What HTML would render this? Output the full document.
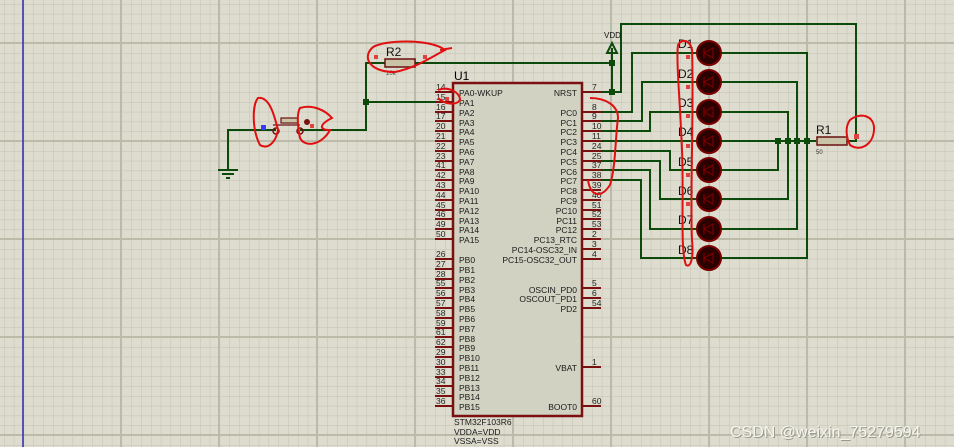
<!DOCTYPE html>
<html><head><meta charset="utf-8"><style>
html,body{margin:0;padding:0;background:#dcdccd;}
svg{display:block}
text{font-family:"Liberation Sans",sans-serif;}
</style></head><body>
<svg width="954" height="447" viewBox="0 0 954 447" xmlns="http://www.w3.org/2000/svg">
<defs>
<pattern id="g" x="4" y="4" width="9.8" height="9.8" patternUnits="userSpaceOnUse">
<path d="M0 0H9.8M0 0V9.8" stroke="#c2c2b2" stroke-width="1" fill="none"/>
</pattern>
</defs>
<rect width="954" height="447" fill="#dddccf"/>
<rect width="954" height="447" fill="url(#g)"/>
<g stroke="#bbbbaa" stroke-width="2">
<path d="M0 43H954M0 141H954M0 239H954M0 337H954M0 435H954"/>
<path d="M121 0V447M219 0V447M317 0V447M415 0V447M513 0V447M611 0V447M709 0V447M807 0V447M905 0V447"/>
</g>
<line x1="23" y1="0" x2="23" y2="447" stroke="#2a2ab0" stroke-width="1.5"/>

<!-- chip -->
<rect x="453" y="83" width="129" height="333" fill="#d2d2c3" stroke="#7a1010" stroke-width="2.5"/>
<text x="454" y="80" font-size="12">U1</text>
<g stroke="#7a1010" stroke-width="2">
<path d="M435 92H453M435 102H453M435 112H453M435 121H453M435 131H453M435 141H453M435 151H453M435 161H453M435 170H453M435 180H453M435 190H453M435 200H453M435 210H453M435 219H453M435 229H453M435 239H453"/>
<path d="M435 259H453M435 269H453M435 279H453M435 288H453M435 298H453M435 308H453M435 318H453M435 328H453M435 337H453M435 347H453M435 357H453M435 367H453M435 377H453M435 386H453M435 396H453M435 406H453"/>
<path d="M582 92H601M582 112H601M582 121H601M582 131H601M582 141H601M582 151H601M582 161H601M582 170H601M582 180H601M582 190H601M582 200H601M582 210H601M582 219H601M582 229H601M582 239H601M582 249H601M582 259H601M582 288H601M582 298H601M582 308H601M582 367H601M582 406H601"/>
</g>
<g font-size="8.5" fill="#222">
<text x="436" y="90">14</text><text x="436" y="100">15</text><text x="436" y="110">16</text><text x="436" y="119">17</text><text x="436" y="129">20</text><text x="436" y="139">21</text><text x="436" y="149">22</text><text x="436" y="159">23</text><text x="436" y="168">41</text><text x="436" y="178">42</text><text x="436" y="188">43</text><text x="436" y="198">44</text><text x="436" y="208">45</text><text x="436" y="217">46</text><text x="436" y="227">49</text><text x="436" y="237">50</text>
<text x="436" y="257">26</text><text x="436" y="267">27</text><text x="436" y="277">28</text><text x="436" y="286">55</text><text x="436" y="296">56</text><text x="436" y="306">57</text><text x="436" y="316">58</text><text x="436" y="326">59</text><text x="436" y="335">61</text><text x="436" y="345">62</text><text x="436" y="355">29</text><text x="436" y="365">30</text><text x="436" y="375">33</text><text x="436" y="384">34</text><text x="436" y="394">35</text><text x="436" y="404">36</text>
<text x="592" y="90">7</text><text x="592" y="110">8</text><text x="592" y="119">9</text><text x="592" y="129">10</text><text x="592" y="139">11</text><text x="592" y="149">24</text><text x="592" y="159">25</text><text x="592" y="168">37</text><text x="592" y="178">38</text><text x="592" y="188">39</text><text x="592" y="198">40</text><text x="592" y="208">51</text><text x="592" y="217">52</text><text x="592" y="227">53</text><text x="592" y="237">2</text><text x="592" y="247">3</text><text x="592" y="257">4</text><text x="592" y="286">5</text><text x="592" y="296">6</text><text x="592" y="306">54</text><text x="592" y="365">1</text><text x="592" y="404">60</text>
</g>
<g font-size="8.5" fill="#1a1a1a">
<text x="459" y="96">PA0-WKUP</text><text x="459" y="106">PA1</text><text x="459" y="116">PA2</text><text x="459" y="126">PA3</text><text x="459" y="135">PA4</text><text x="459" y="145">PA5</text><text x="459" y="155">PA6</text><text x="459" y="165">PA7</text><text x="459" y="175">PA8</text><text x="459" y="184">PA9</text><text x="459" y="194">PA10</text><text x="459" y="204">PA11</text><text x="459" y="214">PA12</text><text x="459" y="224">PA13</text><text x="459" y="233">PA14</text><text x="459" y="243">PA15</text>
<text x="459" y="263">PB0</text><text x="459" y="273">PB1</text><text x="459" y="283">PB2</text><text x="459" y="293">PB3</text><text x="459" y="302">PB4</text><text x="459" y="312">PB5</text><text x="459" y="322">PB6</text><text x="459" y="332">PB7</text><text x="459" y="342">PB8</text><text x="459" y="351">PB9</text><text x="459" y="361">PB10</text><text x="459" y="371">PB11</text><text x="459" y="381">PB12</text><text x="459" y="391">PB13</text><text x="459" y="400">PB14</text><text x="459" y="410">PB15</text>
</g>
<g font-size="8.5" fill="#1a1a1a" text-anchor="end">
<text x="577" y="96">NRST</text><text x="577" y="116">PC0</text><text x="577" y="126">PC1</text><text x="577" y="135">PC2</text><text x="577" y="145">PC3</text><text x="577" y="155">PC4</text><text x="577" y="165">PC5</text><text x="577" y="175">PC6</text><text x="577" y="184">PC7</text><text x="577" y="194">PC8</text><text x="577" y="204">PC9</text><text x="577" y="214">PC10</text><text x="577" y="224">PC11</text><text x="577" y="233">PC12</text><text x="577" y="243">PC13_RTC</text><text x="577" y="253">PC14-OSC32_IN</text><text x="577" y="263">PC15-OSC32_OUT</text><text x="577" y="293">OSCIN_PD0</text><text x="577" y="302">OSCOUT_PD1</text><text x="577" y="312">PD2</text><text x="577" y="371">VBAT</text><text x="577" y="410">BOOT0</text>
</g>
<g font-size="8.5" fill="#1a1a1a">
<text x="454" y="425">STM32F103R6</text><text x="454" y="435">VDDA=VDD</text><text x="454" y="444">VSSA=VSS</text>
</g>

<!-- wires -->
<g stroke="#0b4a0b" stroke-width="2" fill="none">
<path d="M228 170V130H276M300 130H366V63H385M415 63H612M366 102H435"/>
<path d="M601 92H621V24H856V141H847"/>
<path d="M612 48V92"/>
<path d="M601 112H632V53H807V141M601 121H642V82H797V141M601 131H650V112H788V141M601 141H816M601 151H670V170H778V141M601 161H660V199H788V141M601 170H650V229H797V141M601 180H641V258H807V141"/>
</g>
<g fill="#0b4a0b">
<rect x="363" y="99" width="6" height="6"/><rect x="609" y="60" width="6" height="6"/><rect x="609" y="89" width="6" height="6"/>
<rect x="775" y="138" width="6" height="6"/><rect x="785" y="138" width="6" height="6"/><rect x="794" y="138" width="6" height="6"/><rect x="804" y="138" width="6" height="6"/>
</g>
<g stroke="#0b4a0b" stroke-width="2"><path d="M218 170H238M222 174H234M226 178H230"/></g>
<path d="M607 53L612 43L617 53Z" fill="none" stroke="#0b4a0b" stroke-width="2"/>
<text x="604" y="38" font-size="8" fill="#111">VDD</text>
<rect x="385" y="59" width="30" height="8" fill="#c9c3a8" stroke="#6b1010" stroke-width="1.5"/>
<text x="386" y="56" font-size="12" fill="#111">R2</text>
<text x="386" y="75" font-size="6" fill="#444">10k</text>
<rect x="817" y="137" width="30" height="8" fill="#c9c3a8" stroke="#6b1010" stroke-width="1.5"/>
<text x="816" y="134" font-size="12" fill="#111">R1</text>
<text x="816" y="154" font-size="6" fill="#333">50</text>
<rect x="281" y="118" width="17" height="5" fill="#c9c3a8" stroke="#6b1010" stroke-width="1.2"/>
<path d="M273 125H300" stroke="#6b1010" stroke-width="1.2"/>
<circle cx="276" cy="131" r="3" fill="none" stroke="#6b1010" stroke-width="1.5"/>
<circle cx="300" cy="131" r="3" fill="none" stroke="#6b1010" stroke-width="1.5"/>
<circle cx="307" cy="122" r="3" fill="#7a1010"/>
<rect x="261" y="125" width="5" height="5" fill="#3a3aff"/>
<g fill="#2a0000" stroke="#7a0000" stroke-width="2">
<circle cx="709" cy="53" r="12"/><circle cx="709" cy="82" r="12"/><circle cx="709" cy="112" r="12"/><circle cx="709" cy="141" r="12"/>
<circle cx="709" cy="170" r="12"/><circle cx="709" cy="199" r="12"/><circle cx="709" cy="229" r="12"/><circle cx="709" cy="258" r="12"/>
</g>
<g stroke="#7a0000" stroke-width="1.2" fill="none">
<path d="M704 48V58M704 53L713 48V58Z"/><path d="M704 77V87M704 82L713 77V87Z"/><path d="M704 107V117M704 112L713 107V117Z"/><path d="M704 136V146M704 141L713 136V146Z"/>
<path d="M704 165V175M704 170L713 165V175Z"/><path d="M704 194V204M704 199L713 194V204Z"/><path d="M704 224V234M704 229L713 224V234Z"/><path d="M704 253V263M704 258L713 253V263Z"/>
</g>
<g font-size="12" fill="#111">
<text x="678" y="48">D1</text><text x="678" y="78">D2</text><text x="678" y="107">D3</text><text x="678" y="136">D4</text><text x="678" y="166">D5</text><text x="678" y="195">D6</text><text x="678" y="224">D7</text><text x="678" y="254">D8</text>
</g>
<g fill="#e04040">
<rect x="686" y="55" width="4" height="4"/><rect x="686" y="85" width="4" height="4"/><rect x="686" y="114" width="4" height="4"/><rect x="686" y="144" width="4" height="4"/><rect x="686" y="173" width="4" height="4"/><rect x="686" y="202" width="4" height="4"/>
<rect x="854" y="134" width="5" height="5"/><rect x="374" y="55" width="4" height="4"/><rect x="423" y="55" width="4" height="4"/><rect x="445" y="97" width="4" height="4"/><rect x="310" y="124" width="4" height="4"/>
</g>
<g stroke="#e01010" stroke-width="2" fill="none">
<path d="M372 48C380 40 430 38 445 50C430 58 415 68 395 72C370 72 362 58 372 48ZM440 50L452 48"/>
<path d="M438 90C448 86 460 92 460 100C456 106 444 104 438 98"/>
<path d="M258 98C270 96 275 118 278 130C276 142 268 150 260 145C252 130 252 105 258 98Z"/>
<path d="M300 108C312 104 325 110 332 118C320 124 318 130 330 130C322 145 305 148 300 138C298 128 296 115 300 108Z"/>
<path d="M590 98C605 98 618 105 618 118C615 140 616 165 610 185C600 200 590 195 588 180"/>
<path d="M678 45C682 38 690 40 692 50C694 100 690 200 692 240C694 260 690 268 686 265C680 250 684 200 682 150C680 100 676 60 678 45Z"/>
<path d="M850 120C860 112 875 115 874 130C873 145 860 152 850 145C845 135 846 125 850 120Z"/>
</g>
<text x="731" y="438" font-size="16" fill="#9a9a8c">CSDN @weixin_75279594</text>
<text x="730" y="437" font-size="16" fill="#f6f6f0">CSDN @weixin_75279594</text>
</svg>
</body></html>
